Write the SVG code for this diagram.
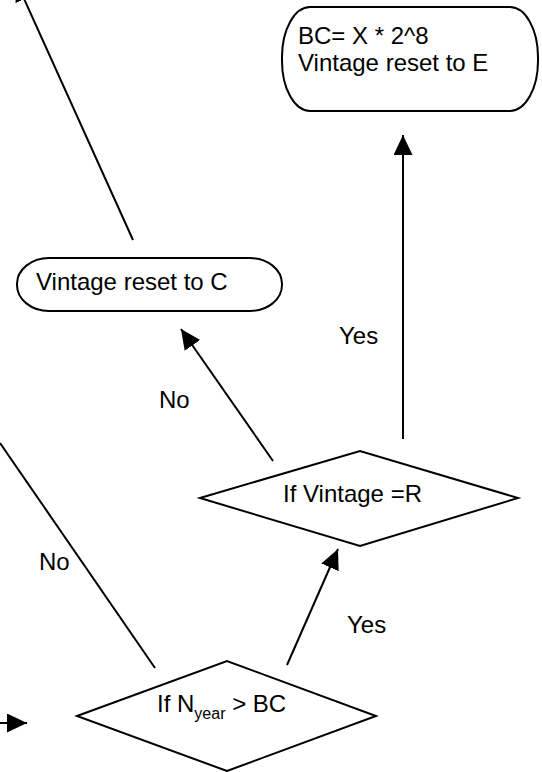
<svg xmlns="http://www.w3.org/2000/svg" width="542" height="772" viewBox="0 0 542 772">
<style>
.shape{fill:#fff;stroke:#000;stroke-width:2}
.conn{fill:none;stroke:#000;stroke-width:2}
.txt{font-family:"Liberation Sans",Arial,sans-serif;font-size:24px;fill:#000}
</style>
<defs>
<marker id="arr" markerUnits="userSpaceOnUse" markerWidth="20" markerHeight="20" refX="20" refY="9.5" orient="auto">
<path d="M0,0 L20,9.5 L0,19 z" fill="#000"/>
</marker>
</defs>
<rect width="542" height="772" fill="#fff"/>
<g id="connectors">
<line class="conn" x1="133" y1="240" x2="16" y2="-19" marker-end="url(#arr)"/>
<line class="conn" x1="403" y1="439" x2="403" y2="135" marker-end="url(#arr)"/>
<line class="conn" x1="273" y1="461" x2="181" y2="329" marker-end="url(#arr)"/>
<line class="conn" x1="287" y1="665" x2="338" y2="549" marker-end="url(#arr)"/>
<line class="conn" x1="0" y1="443" x2="155" y2="668"/>
<line class="conn" x1="-5" y1="723" x2="27" y2="723" marker-end="url(#arr)"/>
<text class="txt" x="339" y="344">Yes</text>
<text class="txt" x="159" y="408">No</text>
<text class="txt" x="39" y="570">No</text>
<text class="txt" x="347" y="633">Yes</text>
</g>
<g id="node-bc">
<rect class="shape" x="282" y="7" width="256" height="104" rx="28" ry="50"/>
<text class="txt" x="298" y="44">BC= X * 2^8</text>
<text class="txt" x="298" y="71">Vintage reset to E</text>
</g>
<g id="node-reset-c">
<rect class="shape" x="17" y="258" width="265" height="53" rx="32" ry="26"/>
<text class="txt" x="36" y="290">Vintage reset to C</text>
</g>
<g id="node-vintage-r">
<polygon class="shape" points="200,498 360,451 518,498 360,546"/>
<text class="txt" x="283" y="502">If Vintage =R</text>
</g>
<g id="node-nyear">
<polygon class="shape" points="77,716 227,661 376,716 227,771"/>
<text class="txt" x="157" y="712">If N<tspan font-size="16" dy="7">year</tspan><tspan dy="-7"> &gt; BC</tspan></text>
</g>
</svg>
